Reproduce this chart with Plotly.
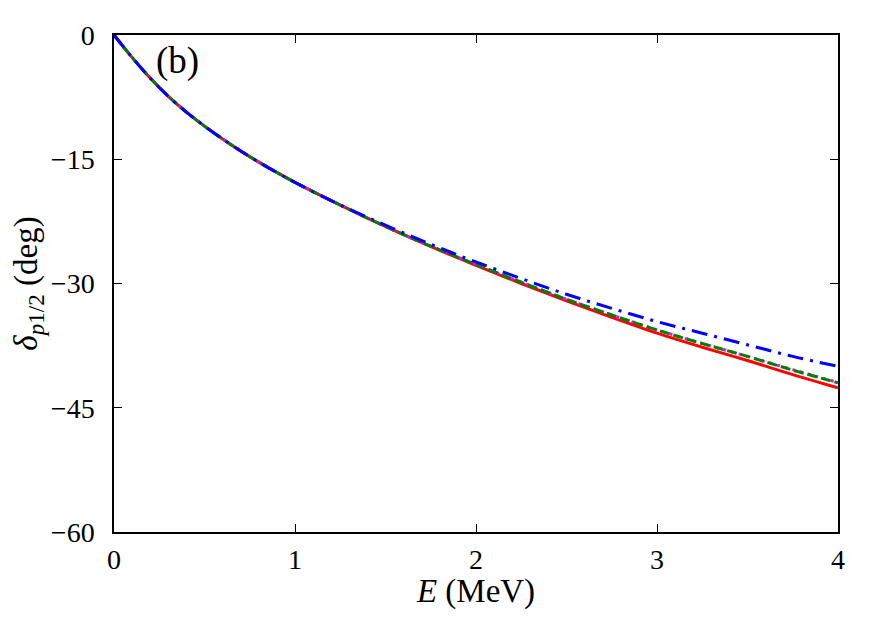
import plotly.graph_objects as go

# Energias (MeV) e desfasagens (graus)
energia = [0, 0.1, 0.2, 0.3, 0.4, 0.5, 0.6, 0.7, 0.8, 0.9, 1.0, 1.2, 1.4,
           1.6, 1.8, 2.0, 2.25, 2.5, 2.75, 3.0, 3.25, 3.5, 3.75, 4.0]

delta_vermelho = [0, -2.7, -5.2, -7.4, -9.3, -11.0, -12.55, -14.0, -15.35, -16.6,
                  -17.8, -20.0, -22.1, -24.1, -26.0, -27.8, -30.0, -32.1, -34.1,
                  -36.0, -37.7, -39.3, -41.0, -42.6]
delta_magenta = [0, -2.7, -5.2, -7.4, -9.3, -11.0, -12.55, -14.0, -15.35, -16.6,
                 -17.8, -20.0, -22.1, -24.1, -25.95, -27.7, -29.85, -31.9, -33.8,
                 -35.6, -37.25, -38.8, -40.4, -41.95]
delta_verde = [0, -2.7, -5.2, -7.4, -9.3, -11.0, -12.55, -14.0, -15.35, -16.6,
               -17.8, -20.0, -22.1, -24.1, -25.95, -27.7, -29.85, -31.9, -33.8,
               -35.6, -37.25, -38.8, -40.45, -42.0]
delta_azul = [0, -2.7, -5.2, -7.4, -9.3, -11.0, -12.55, -14.0, -15.35, -16.6,
              -17.8, -20.0, -22.0, -23.9, -25.7, -27.4, -29.4, -31.3, -33.0,
              -34.6, -36.0, -37.4, -38.8, -40.0]

ticks_x = [0, 1, 2, 3, 4]
ticks_y = [0, -15, -30, -45, -60]
rotulos_y = ["0", "\u221215", "\u221230", "\u221245", "\u221260"]

fonte = "Liberation Serif"

fig = go.Figure()

# Curvas: vermelho sólido, magenta pontilhado, verde tracejado, azul traço-ponto
fig.add_trace(go.Scatter(x=energia, y=delta_vermelho, mode="lines",
                         line=dict(color="red", width=3, shape="spline")))
fig.add_trace(go.Scatter(x=energia, y=delta_magenta, mode="lines",
                         line=dict(color="magenta", width=3, dash="3px,5px", shape="spline")))
fig.add_trace(go.Scatter(x=energia, y=delta_verde, mode="lines",
                         line=dict(color="green", width=3, dash="10px,4px", shape="spline")))
fig.add_trace(go.Scatter(x=energia, y=delta_azul, mode="lines",
                         line=dict(color="blue", width=3, dash="16px,7px,3px,7px", shape="spline")))

fig.add_annotation(x=0.22, y=-3.1, text="(b)", showarrow=False,
                   xanchor="left", yanchor="middle",
                   font=dict(size=37, color="black", family=fonte))

eixo = dict(showline=True, linecolor="black", linewidth=1.5, mirror="ticks",
            ticks="inside", ticklen=8, tickwidth=1.2, tickcolor="black",
            showgrid=False, zeroline=False,
            tickfont=dict(size=28, color="black", family=fonte))

# a página tem 8px de margem no body, por isso a figura é um pouco menor
fig.update_layout(
    width=856, height=602,
    margin=dict(l=106, r=26, t=22, b=78),
    plot_bgcolor="white",
    paper_bgcolor="white",
    showlegend=False,
    font=dict(family=fonte, color="black"),
    xaxis=dict(range=[0, 4], tickvals=ticks_x, ticklabelstandoff=2,
               title=dict(text="<i>E</i> (MeV)", font=dict(size=33, family=fonte), standoff=0),
               **eixo),
    yaxis=dict(range=[-60, 0], tickvals=ticks_y, ticktext=rotulos_y, ticklabelstandoff=12,
               title=dict(text="<i>δ</i><sub><i>p</i>1/2</sub> (deg)", font=dict(size=33, family=fonte), standoff=8),
               **eixo),
)

fig.write_html("out.html")
